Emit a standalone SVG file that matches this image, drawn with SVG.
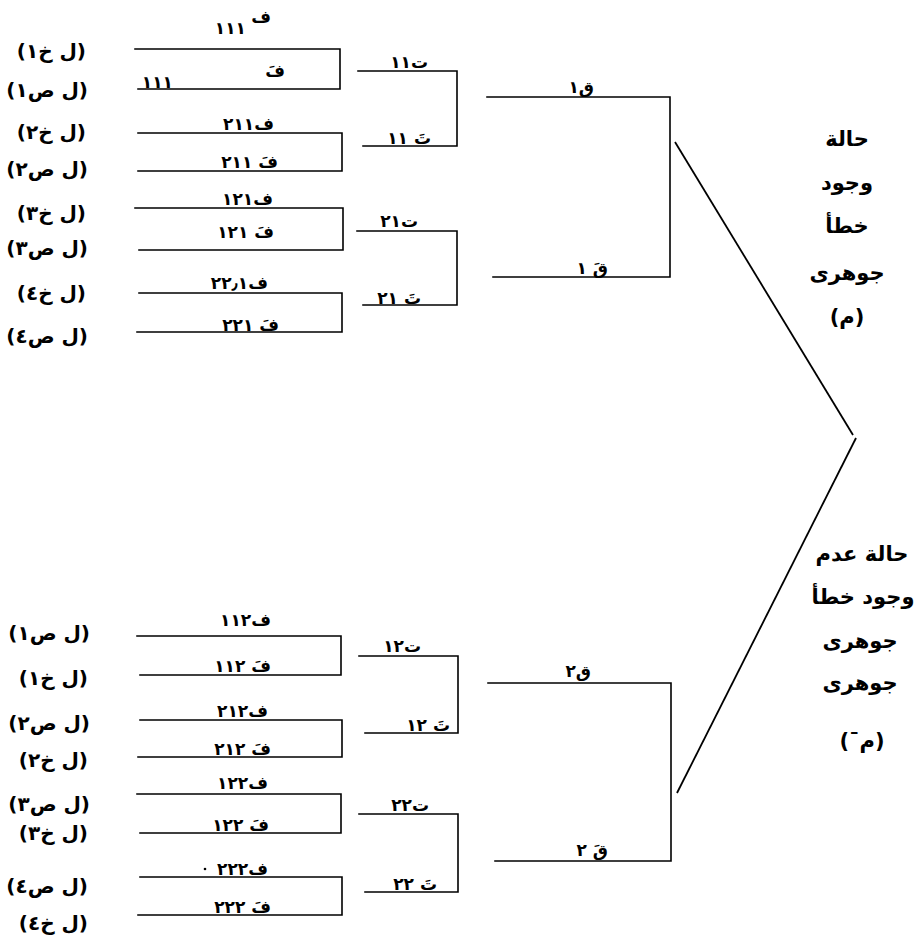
<svg xmlns="http://www.w3.org/2000/svg" width="921" height="944" viewBox="0 0 921 944">
  <style>
    .ln { fill: none; stroke: #000; stroke-width: 1.6; stroke-linecap: square; }
    .dg { fill: none; stroke: #000; stroke-width: 1.8; }
    text { font-family: "DejaVu Sans", sans-serif; font-weight: bold; fill: #000; }
    .lab { font-size: 20px; text-anchor: end; }
    .ix { font-size: 17px; text-anchor: end; }
    .big { font-size: 21px; text-anchor: middle; }
  </style>

  <!-- connectors: brackets joining each pair, and the two diagonal branches -->
  <g id="connectors">
    <!-- level 1 (ف) : top half -->
    <path class="ln" d="M135,49 H340 V89 H138"/>
    <path class="ln" d="M138,133 H342 V171 H138"/>
    <path class="ln" d="M135,208 H343 V250 H139"/>
    <path class="ln" d="M139,293 H342 V332 H137"/>
    <!-- level 2 (ت) : top half -->
    <path class="ln" d="M358,71 H457 V146 H363"/>
    <path class="ln" d="M357,231 H457 V305 H363"/>
    <!-- level 3 (ق) : top half -->
    <path class="ln" d="M487,97 H670 V277 H493"/>

    <!-- level 1 (ف) : bottom half -->
    <path class="ln" d="M137,636 H341 V675 H140"/>
    <path class="ln" d="M140,720 H342 V757 H138"/>
    <path class="ln" d="M137,794 H341 V833 H140"/>
    <path class="ln" d="M140,877 H342 V915 H138"/>
    <!-- level 2 (ت) : bottom half -->
    <path class="ln" d="M359,656 H458 V733 H365"/>
    <path class="ln" d="M359,814 H458 V892 H365"/>
    <!-- level 3 (ق) : bottom half -->
    <path class="ln" d="M488,683 H671 V861 H495"/>

    <!-- diagonal branches -->
    <line class="dg" x1="675" y1="142" x2="853" y2="435"/>
    <line class="dg" x1="856" y1="438" x2="677" y2="793"/>
  </g>

  <!-- left-hand row labels, top half -->
  <g id="rows-top">
    <text class="lab" x="86" y="58">(ل خ١)</text>
    <text class="lab" x="88" y="97">(ل ص١)</text>
    <text class="lab" x="86" y="139">(ل خ٢)</text>
    <text class="lab" x="88" y="176">(ل ص٢)</text>
    <text class="lab" x="86" y="220">(ل خ٣)</text>
    <text class="lab" x="88" y="255">(ل ص٣)</text>
    <text class="lab" x="86" y="300">(ل خ٤)</text>
    <text class="lab" x="88" y="343">(ل ص٤)</text>
  </g>

  <!-- left-hand row labels, bottom half -->
  <g id="rows-bottom">
    <text class="lab" x="90" y="640">(ل ص١)</text>
    <text class="lab" x="88" y="685">(ل خ١)</text>
    <text class="lab" x="90" y="730">(ل ص٢)</text>
    <text class="lab" x="88" y="767">(ل خ٢)</text>
    <text class="lab" x="90" y="811">(ل ص٣)</text>
    <text class="lab" x="88" y="840">(ل خ٣)</text>
    <text class="lab" x="88" y="893">(ل ص٤)</text>
    <text class="lab" x="88" y="930">(ل خ٤)</text>
  </g>

  <!-- level 1 nodes, top half -->
  <g id="f111">
    <text class="ix" x="246" y="34">١١١</text>
    <text class="ix" x="271" y="23">ف</text>
  </g>
  <g id="f111b">
    <text class="ix" x="285" y="77">فَ</text>
    <text class="ix" x="173" y="88">١١١</text>
  </g>
  <g id="f211"><text class="ix" x="274" y="130">ف٢١١</text></g>
  <g id="f211b"><text class="ix" x="278" y="168">فَ ٢١١</text></g>
  <g id="f121"><text class="ix" x="273" y="205">ف١٢١</text></g>
  <g id="f121b"><text class="ix" x="274" y="238">فَ ١٢١</text></g>
  <g id="f221"><text class="ix" x="268" y="289">ف٢٢٫١</text></g>
  <g id="f221b"><text class="ix" x="279" y="331">فَ ٢٢١</text></g>

  <!-- level 2 and 3 nodes, top half -->
  <g id="t11"><text class="ix" x="428" y="68">ت١١</text></g>
  <g id="t11b"><text class="ix" x="431" y="144">تَ ١١</text></g>
  <g id="t21"><text class="ix" x="418" y="227">ت٢١</text></g>
  <g id="t21b"><text class="ix" x="421" y="304">تَ ٢١</text></g>
  <g id="q1"><text class="ix" x="594" y="93">ق١</text></g>
  <g id="q1b"><text class="ix" x="608" y="274">قَ ١</text></g>

  <!-- level 1 nodes, bottom half -->
  <g id="f112"><text class="ix" x="271" y="626">ف١١٢</text></g>
  <g id="f112b"><text class="ix" x="271" y="672">فَ ١١٢</text></g>
  <g id="f212"><text class="ix" x="268" y="717">ف٢١٢</text></g>
  <g id="f212b"><text class="ix" x="271" y="755">فَ ٢١٢</text></g>
  <g id="f122"><text class="ix" x="268" y="789">ف١٢٢</text></g>
  <g id="f122b"><text class="ix" x="269" y="831">فَ ١٢٢</text></g>
  <g id="f222">
    <circle cx="205" cy="869" r="1.3" fill="#000"/>
    <text class="ix" x="268" y="875">ف٢٢٢</text>
  </g>
  <g id="f222b"><text class="ix" x="271" y="913">فَ ٢٢٢</text></g>

  <!-- level 2 and 3 nodes, bottom half -->
  <g id="t12"><text class="ix" x="421" y="652">ت١٢</text></g>
  <g id="t12b"><text class="ix" x="450" y="731">تَ ١٢</text></g>
  <g id="t22"><text class="ix" x="429" y="811">ت٢٢</text></g>
  <g id="t22b"><text class="ix" x="437" y="890">تَ ٢٢</text></g>
  <g id="q2"><text class="ix" x="591" y="677">ق٢</text></g>
  <g id="q2b"><text class="ix" x="608" y="856">قَ ٢</text></g>

  <!-- case captions on the right -->
  <g id="case-error">
    <text class="big" x="847" y="146">حالة</text>
    <text class="big" x="847" y="190">وجود</text>
    <text class="big" x="847" y="233">خطأ</text>
    <text class="big" x="847" y="280">جوهرى</text>
    <text class="big" x="847" y="324">(م)</text>
  </g>
  <g id="case-no-error">
    <text class="big" x="862" y="561">حالة عدم</text>
    <text class="big" x="863" y="604">وجود خطأ</text>
    <text class="big" x="860" y="648">جوهرى</text>
    <text class="big" x="860" y="690">جوهرى</text>
    <text class="big" x="862" y="748" direction="rtl">(م¯)</text>
  </g>
</svg>
